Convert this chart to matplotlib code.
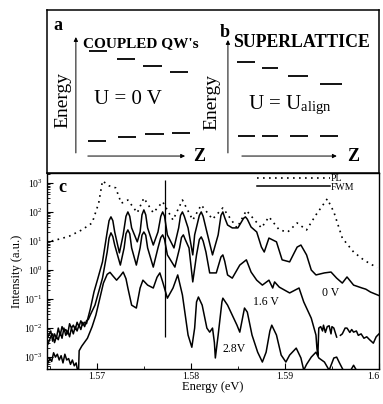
import numpy as np
import matplotlib
matplotlib.use('Agg')
import matplotlib.pyplot as plt
from matplotlib.ticker import LogLocator, LogFormatterMathtext, NullFormatter, MultipleLocator, FixedLocator
from matplotlib.lines import Line2D

plt.rcParams['font.family'] = ['Liberation Serif', 'DejaVu Serif']
plt.rcParams['mathtext.fontset'] = 'stix'

# ---- schematic (a, b): level positions in axes fraction ----
a_up_x = [0.127, 0.211, 0.289, 0.371]
a_up_y = [0.748, 0.699, 0.656, 0.620]
a_lo_x = [0.124, 0.214, 0.295, 0.377]
a_lo_y = [0.196, 0.221, 0.239, 0.245]
a_w = [0.055, 0.055, 0.057, 0.055]
b_up_x = [0.572, 0.648, 0.726, 0.822]
b_up_y = [0.681, 0.644, 0.595, 0.546]
b_up_w = [0.054, 0.048, 0.060, 0.066]
b_lo_x = [0.575, 0.648, 0.732, 0.822]
b_lo_y = [0.227, 0.227, 0.227, 0.227]
b_lo_w = [0.052, 0.048, 0.055, 0.055]

# ---- panel c: (energy eV, log10 intensity) ----
pl = [(1.5652, 1.00), (1.5662, 1.08), (1.5671, 1.17), (1.5684, 1.38), (1.5695, 1.62),
      (1.5702, 2.31), (1.5706, 3.07), (1.5713, 2.90), (1.5720, 2.83), (1.5726, 2.30),
      (1.5733, 2.41), (1.5743, 1.97), (1.5750, 2.48), (1.5760, 1.97), (1.5770, 2.35),
      (1.5781, 1.72), (1.5791, 2.41), (1.5802, 1.72), (1.5811, 2.24), (1.5823, 1.75),
      (1.5834, 2.14), (1.5849, 1.45), (1.5859, 2.05), (1.5875, 1.45), (1.5883, 1.83),
      (1.5894, 1.38), (1.5903, 1.31), (1.5913, 1.62), (1.5923, 1.38), (1.5933, 1.90),
      (1.5945, 2.45), (1.5952, 2.00), (1.5961, 1.10), (1.5973, 0.62), (1.5984, 0.34),
      (1.5998, 0.08)]

fwm_0v = [(1.5648, -2.30), (1.5651, -2.10), (1.5653, -2.45), (1.5655, -2.20), (1.5657, -2.35),
          (1.5659, -2.00), (1.5661, -2.25), (1.5663, -1.95), (1.5665, -2.10), (1.5667, -2.05),
          (1.5669, -2.20), (1.5671, -1.85), (1.5673, -2.00), (1.5675, -1.90), (1.5677, -2.05),
          (1.5679, -1.80), (1.5681, -1.95), (1.5683, -1.75), (1.5685, -1.90), (1.5687, -1.80),
          (1.5689, -1.85), (1.5691, -1.60), (1.5693, -1.35), (1.5697, -0.75), (1.5701, -0.30),
          (1.5706, 0.28), (1.5711, 1.31), (1.5713, 1.70), (1.5715, 1.83), (1.5717, 1.70),
          (1.5719, 1.31), (1.5724, 0.59), (1.5728, 1.21), (1.5731, 1.85), (1.5733, 2.00),
          (1.5735, 1.85), (1.5737, 1.45), (1.5743, 0.97), (1.5746, 1.31), (1.5748, 1.90),
          (1.5750, 2.07), (1.5752, 1.90), (1.5754, 1.45), (1.5760, 0.86), (1.5765, 1.31),
          (1.5768, 1.85), (1.5770, 2.00), (1.5772, 1.85), (1.5775, 1.21), (1.5782, 0.76),
          (1.5787, 1.45), (1.5789, 1.88), (1.5791, 2.00), (1.5793, 1.85), (1.5797, 1.45),
          (1.5802, 0.52), (1.5804, 1.21), (1.5809, 1.88), (1.5811, 2.00), (1.5813, 1.85),
          (1.5817, 1.31), (1.5823, 0.52), (1.5829, 1.21), (1.5832, 1.88), (1.5834, 2.00),
          (1.5836, 1.80), (1.5839, 1.55), (1.5844, 1.45), (1.5850, 1.45), (1.5856, 1.78),
          (1.5858, 1.83), (1.5860, 1.75), (1.5864, 1.48), (1.5870, 1.31), (1.5875, 0.79),
          (1.5878, 0.62), (1.5883, 1.10), (1.5891, 0.97), (1.5897, 0.35), (1.5905, 0.28),
          (1.5910, 0.60), (1.5913, 0.79), (1.5917, 0.86), (1.5923, 0.52), (1.5928, 0.00),
          (1.5933, -0.17), (1.5942, -0.10), (1.5949, -0.07), (1.5955, -0.28), (1.5961, -0.45),
          (1.5966, -0.24), (1.5973, -0.52), (1.5982, -0.62), (1.5986, -0.66), (1.5991, -0.76),
          (1.6000, -0.88)]

fwm_16v = [(1.5648, -2.55), (1.5651, -2.30), (1.5653, -2.20), (1.5655, -2.50), (1.5657, -2.30),
           (1.5659, -2.40), (1.5661, -2.15), (1.5663, -2.35), (1.5665, -2.00), (1.5667, -2.25),
           (1.5669, -2.10), (1.5671, -2.30), (1.5673, -2.00), (1.5675, -2.20), (1.5677, -1.95),
           (1.5679, -2.10), (1.5681, -1.90), (1.5683, -2.05), (1.5685, -1.80), (1.5687, -1.95),
           (1.5689, -1.75), (1.5691, -1.70), (1.5693, -1.55), (1.5698, -1.21), (1.5706, -0.28),
           (1.5711, 0.62), (1.5713, 1.10), (1.5715, 1.28), (1.5717, 1.15), (1.5719, 0.86),
           (1.5725, 0.17), (1.5729, 0.76), (1.5731, 1.25), (1.5733, 1.38), (1.5735, 1.25),
           (1.5737, 0.76), (1.5742, 0.17), (1.5746, 0.76), (1.5748, 1.20), (1.5750, 1.31),
           (1.5752, 1.20), (1.5754, 0.76), (1.5760, 0.10), (1.5765, 0.76), (1.5768, 1.12),
           (1.5770, 1.21), (1.5772, 1.05), (1.5775, 0.52), (1.5783, 0.10), (1.5788, 0.76),
           (1.5790, 1.12), (1.5792, 1.21), (1.5794, 1.05), (1.5798, 0.76), (1.5802, -0.41),
           (1.5806, 0.52), (1.5809, 1.05), (1.5811, 1.14), (1.5813, 1.00), (1.5816, 0.62),
           (1.5820, -0.10), (1.5827, -0.10), (1.5832, 0.45), (1.5834, 0.52), (1.5836, 0.30),
           (1.5839, -0.17), (1.5844, -0.28), (1.5852, 0.17), (1.5859, 0.35), (1.5864, -0.07),
           (1.5870, -0.35), (1.5876, -0.52), (1.5883, -0.35), (1.5887, -0.62), (1.5889, -0.41),
           (1.5894, -0.59), (1.5905, -0.79), (1.5915, -0.62), (1.5920, -1.10), (1.5928, -1.66),
           (1.5933, -2.24), (1.5934, -2.69), (1.5935, -2.95), (1.5936, -2.00), (1.5938, -1.95),
           (1.5940, -2.10), (1.5941, -1.90), (1.5943, -2.15), (1.5945, -1.95), (1.5947, -1.92),
           (1.5949, -2.20), (1.5950, -1.95), (1.5952, -2.00), (1.5955, -2.31), (1.5957, np.nan),
           (1.5959, -2.25), (1.5961, -2.20), (1.5964, -2.00), (1.5966, -2.00), (1.5969, -2.15),
           (1.5971, -2.05), (1.5973, -2.14), (1.5976, -2.10), (1.5978, -2.25), (1.5981, -2.20),
           (1.5984, -2.35), (1.5987, -2.30), (1.5990, -2.40), (1.5994, -2.52), (1.5997, -2.30),
           (1.6000, -2.20)]

fwm_28v = [(1.5648, -3.20), (1.5650, -3.05), (1.5652, -3.15), (1.5654, -2.85), (1.5656, -3.00),
           (1.5658, -2.90), (1.5660, -3.10), (1.5662, -2.95), (1.5664, -3.20), (1.5666, -2.90),
           (1.5668, -3.10), (1.5670, -3.05), (1.5672, -3.25), (1.5674, -3.10), (1.5676, -3.30),
           (1.5678, -3.20), (1.5680, -3.55), (1.56805, -3.55), (1.56812, -2.78), (1.5684, -2.62),
           (1.5690, -2.35), (1.5695, -1.95), (1.5699, -1.55), (1.5703, -1.00), (1.5707, -0.45),
           (1.5711, -0.15), (1.5714, -0.08), (1.5717, -0.20), (1.5721, -0.35), (1.5725, -0.20),
           (1.5728, -0.07), (1.5731, -0.30), (1.5733, -0.62), (1.5737, -1.21), (1.5742, -1.31),
           (1.5746, -0.62), (1.5749, -0.35), (1.5754, -0.52), (1.5760, -0.62), (1.5764, -0.25),
           (1.5767, -0.10), (1.5770, -0.41), (1.5775, -0.97), (1.5781, -0.62), (1.5786, -0.17),
           (1.5791, -0.86), (1.5797, -2.24), (1.5801, -2.66), (1.5804, -2.00), (1.5806, -1.10),
           (1.5808, -0.93), (1.5812, -1.21), (1.5817, -2.00), (1.5820, -2.14), (1.5823, -2.00),
           (1.5825, -2.50), (1.5826, -3.03), (1.5829, -2.24), (1.5833, -1.10), (1.5834, -0.97),
           (1.5839, -1.21), (1.5849, -1.90), (1.5852, -2.14), (1.5857, -1.31), (1.5860, -1.45),
           (1.5865, -2.24), (1.5871, -2.83), (1.5876, -3.17), (1.5880, -2.83), (1.5884, -2.10),
           (1.5886, -1.90), (1.5891, -2.24), (1.5896, -2.93), (1.5901, -3.17), (1.5905, -2.93),
           (1.5912, -2.69), (1.5917, -3.03), (1.5920, -3.45), (1.5923, -3.25), (1.5928, -3.00),
           (1.5933, -2.83), (1.5936, -3.03), (1.5942, -3.17), (1.5947, -3.45), (1.5950, -3.20),
           (1.5952, -3.03), (1.5955, -3.00), (1.5958, -3.20), (1.5962, -3.45), (1.5970, -3.45),
           (1.5973, -3.28), (1.5976, -3.45)]

marker_e = 1.5772
marker_lg = (-2.31, 3.10)

xticks = [1.57, 1.58, 1.59, 1.6]
xticklabels = ['1.57', '1.58', '1.59', '1.6']
yticks = [1e-3, 1e-2, 1e-1, 1e0, 1e1, 1e2, 1e3]


def curve(data):
    arr = np.array(data, dtype=float)
    return arr[:, 0], 10 ** arr[:, 1]


fig = plt.figure(figsize=(3.83, 4.04), dpi=100)

# ---------------- top schematic ----------------
axt = fig.add_axes([0.1227, 0.5718, 0.8668, 0.4035])
axt.set_xlim(0, 1)
axt.set_ylim(0, 1)
axt.set_xticks([])
axt.set_yticks([])
for s in axt.spines.values():
    s.set_linewidth(1.1)

for xs, ys, ws in [(a_up_x, a_up_y, a_w), (a_lo_x, a_lo_y, a_w),
                   (b_up_x, b_up_y, b_up_w), (b_lo_x, b_lo_y, b_lo_w)]:
    for x, y, w in zip(xs, ys, ws):
        axt.plot([x, x + w], [y, y], color='black', lw=1.3, solid_capstyle='butt')

arr = dict(arrowstyle='-|>', lw=0.7, color='black', mutation_scale=6, shrinkA=0, shrinkB=0)
axt.annotate('', xy=(0.087, 0.834), xytext=(0.087, 0.123), arrowprops=arr)
axt.annotate('', xy=(0.416, 0.104), xytext=(0.123, 0.104), arrowprops=arr)
axt.annotate('', xy=(0.545, 0.816), xytext=(0.545, 0.123), arrowprops=arr)
axt.annotate('', xy=(0.873, 0.104), xytext=(0.587, 0.104), arrowprops=arr)

axt.text(0.018, 0.877, 'a', fontsize=13, fontweight='bold', va='baseline')
axt.text(0.519, 0.834, 'b', fontsize=13, fontweight='bold', va='baseline')
axt.text(0.108, 0.773, "COUPLED QW's", fontsize=11, fontweight='bold', va='baseline')
axt.text(0.560, 0.773, 'SUPERLATTICE', fontsize=12.8, fontweight='bold', va='baseline')
axt.text(0.048, 0.448, 'Energy', fontsize=14, rotation=90, ha='center', va='center')
axt.text(0.497, 0.436, 'Energy', fontsize=14, rotation=90, ha='center', va='center')
axt.text(0.244, 0.448, 'U = 0 V', fontsize=15, ha='center', va='center')
axt.text(0.732, 0.417, r'U = U$_{\mathregular{align}}$', fontsize=15, ha='center', va='center')
axt.text(0.44, 0.104, 'Z', fontsize=13, fontweight='bold', ha='left', va='center')
axt.text(0.905, 0.104, 'Z', fontsize=13, fontweight='bold', ha='left', va='center')

# ---------------- panel c ----------------
ax = fig.add_axes([0.1227, 0.0866, 0.8668, 0.4851])
ax.set_yscale('log')

e, v = curve(pl)
ax.plot(e, v, color='black', lw=1.2, linestyle=(0, (1, 2.6)))
for d in (fwm_0v, fwm_16v, fwm_28v):
    e, v = curve(d)
    ax.plot(e, v, color='black', lw=1.1)

ax.vlines(marker_e, 10 ** marker_lg[0], 10 ** marker_lg[1], color='black', lw=0.9)

ax.set_xlim(1.5647, 1.6)
ax.set_ylim(10 ** -3.41, 10 ** 3.34)
ax.set_xticks(xticks)
ax.set_xticklabels(xticklabels)
ax.get_xticklabels()[-1].set_horizontalalignment('right')
ax.xaxis.set_minor_locator(MultipleLocator(0.005))
ax.yaxis.set_major_locator(FixedLocator(yticks))
ax.yaxis.set_major_formatter(LogFormatterMathtext())
ax.yaxis.set_minor_locator(LogLocator(base=10, subs=np.arange(2, 10), numticks=20))
ax.yaxis.set_minor_formatter(NullFormatter())
ax.tick_params(which='major', direction='in', length=4, width=0.8, labelsize=7, pad=3)
ax.tick_params(axis='x', which='major', pad=2)
ax.tick_params(which='minor', direction='in', length=2, width=0.6)
for s in ax.spines.values():
    s.set_linewidth(1.0)

ax.set_xlabel('Energy (eV)', fontsize=9, labelpad=0)
ax.set_ylabel('Intensity (a.u.)', fontsize=9, labelpad=1)

ax.text(0.033, 0.903, 'c', transform=ax.transAxes, fontsize=13, fontweight='bold', va='baseline')
ax.text(1.5949, 10 ** -0.79, '0 V', fontsize=8.5, ha='center', va='center')
ax.text(1.5880, 10 ** -1.10, '1.6 V', fontsize=8.5, ha='center', va='center')
ax.text(1.5846, 10 ** -2.72, '2.8V', fontsize=8.5, ha='center', va='center')

handles = [Line2D([], [], color='black', lw=1.2, linestyle=(0, (1, 2.6))),
           Line2D([], [], color='black', lw=1.1)]
ax.legend(handles, ['PL', 'FWM'], loc='upper right', bbox_to_anchor=(0.925, 0.995),
          frameon=False, fontsize=7, handlelength=7.5, handletextpad=0.1,
          labelspacing=-0.05, borderpad=0, borderaxespad=0)

fig.savefig('out.png', dpi=100)
